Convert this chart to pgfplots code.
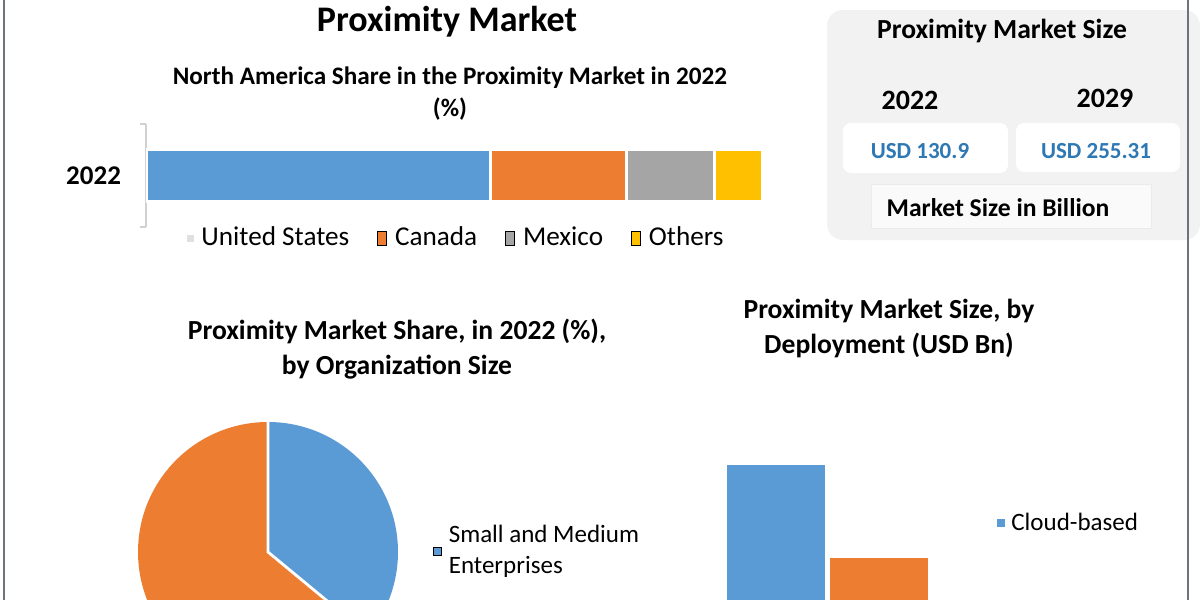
\documentclass[border=0pt]{standalone}
\usepackage{fontspec}
\setmainfont{Carlito}
\usepackage{pgfplots}
\pgfplotsset{compat=1.18}
\definecolor{cblue}{HTML}{5B9BD5}
\definecolor{corange}{HTML}{ED7D31}
\definecolor{cgray}{HTML}{A5A5A5}
\definecolor{cyellow}{HTML}{FFC000}
\definecolor{usdblue}{HTML}{2E78B4}
\definecolor{boxgray}{HTML}{F2F2F2}
\definecolor{framegray}{HTML}{6E7280}
\begin{document}
\begin{tikzpicture}[x=0.5pt,y=-0.5pt]
\useasboundingbox (0,0) rectangle (1200,600);
\clip (0,0) rectangle (1200,600);
\fill[white] (0,0) rectangle (1200,600);

% ---------- Right summary box ----------
\fill[boxgray, rounded corners=8pt] (827,10) rectangle (1200,240);
\node[font=\fontsize{13.8}{16}\selectfont\bfseries] at (1002,31) {Proximity Market Size};
\node[font=\fontsize{14}{16}\selectfont\bfseries] at (910,100) {2022};
\node[font=\fontsize{14}{16}\selectfont\bfseries] at (1105,98) {2029};
\fill[white, rounded corners=4pt] (843,123) rectangle (1008,173);
\fill[white, rounded corners=4pt] (1016,123) rectangle (1180,172);
\node[font=\fontsize{11.5}{14}\selectfont\bfseries, text=usdblue] at (920,151) {USD 130.9};
\node[font=\fontsize{11.5}{14}\selectfont\bfseries, text=usdblue] at (1096,151) {USD 255.31};
\filldraw[fill=black!2, draw=black!8] (871,184) rectangle (1151,228);
\node[font=\fontsize{12.8}{15}\selectfont\bfseries] at (998,208) {Market Size in Billion};

% ---------- Titles ----------
\node[font=\fontsize{18}{20}\selectfont\bfseries] at (447,22) {Proximity Market};
\node[align=center, font=\fontsize{12.6}{16}\selectfont\bfseries] at (450,94)
  {North America Share in the Proximity Market in 2022\\(\%)};
\node[align=center, font=\fontsize{13.8}{17.5}\selectfont\bfseries] at (397,349)
  {Proximity Market Share, in 2022 (\%),\\by Organization Size};
\node[align=center, font=\fontsize{13.8}{17.5}\selectfont\bfseries] at (889,328)
  {Proximity Market Size, by\\Deployment (USD Bn)};

% ---------- Stacked bar: North America share ----------
\begin{axis}[at={(73pt,-113.5pt)}, anchor=south west, scale only axis,
  width=308pt, height=51.5pt,
  xbar stacked, bar width=26pt,
  xmin=0, xmax=100, ymin=-0.5, ymax=0.5,
  axis x line=none, axis y line*=left,
  y axis line style={draw=black!18, line width=0.8pt},
  ytick={0}, yticklabels={2022}, major tick length=0pt,
  minor ytick={-0.5,0.5}, minor tick length=3pt, tick align=outside,
  minor tick style={draw=black!18, line width=0.8pt},
  yticklabel style={font=\fontsize{13.5}{16}\selectfont\bfseries, xshift=-9pt},
  legend columns=4,
  legend style={at={(0.505,-0.107)}, anchor=center, draw=none, fill=none,
    font=\fontsize{13.6}{15}\selectfont,
    /tikz/every odd column/.append style={column sep=2pt},
    /tikz/every even column/.append style={column sep=12pt}},
  legend image code/.code={\fill[#1] (0pt,-3.5pt) rectangle (4.5pt,3.5pt);},
]
\addplot[fill=cblue, draw=white, line width=1.5pt, forget plot] coordinates {(56,0)};
\addplot[fill=corange, draw=white, line width=1.5pt, forget plot] coordinates {(22,0)};
\addplot[fill=cgray, draw=white, line width=1.5pt, forget plot] coordinates {(14.3,0)};
\addplot[fill=cyellow, draw=white, line width=1.5pt, forget plot] coordinates {(7.7,0)};
\addlegendimage{legend image code/.code={\fill[black!12] (1pt,-1.5pt) rectangle (4pt,1.5pt);}}
\addlegendentry{United States}
\addlegendimage{fill=corange}
\addlegendentry{Canada}
\addlegendimage{fill=cgray}
\addlegendentry{Mexico}
\addlegendimage{fill=cyellow}
\addlegendentry{Others}
\end{axis}

% ---------- Pie: organization size ----------
\pgfmathsetmacro{\sme}{36}
\pgfmathsetmacro{\large}{64}
\pgfmathsetmacro{\ea}{90-3.6*\sme}
\begin{axis}[at={(134pt,-276pt)}, anchor=center, scale only axis,
  width=130pt, height=130pt, xmin=-1, xmax=1, ymin=-1, ymax=1, hide axis,
  legend style={at={(1.11,0.635)}, anchor=north west, draw=none, fill=none,
    font=\fontsize{12.5}{15.5}\selectfont, cells={align=left},
    /tikz/every odd column/.append style={column sep=1.5pt}},
  legend image code/.code={\fill[#1] (0pt,-2pt) rectangle (4pt,2pt);},
]
\fill[cblue] (axis cs:0,0) -- (axis cs:0,1) arc[start angle=90, end angle=\ea, radius=65pt] -- cycle;
\fill[corange] (axis cs:0,0) -- (axis cs:{cos(\ea)},{sin(\ea)}) arc[start angle=\ea, end angle=-270, radius=65pt] -- cycle;
\draw[white, line width=1.4pt] (axis cs:0,1) -- (axis cs:0,0) -- (axis cs:{cos(\ea)},{sin(\ea)});
\addlegendimage{fill=cblue}
\addlegendentry{Small and Medium\\Enterprises}
\end{axis}

% ---------- Bars: deployment ----------
\begin{axis}[at={(313.5pt,-360pt)}, anchor=south west, scale only axis,
  width=200pt, height=159.375pt,
  ybar, bar width=49pt,
  xmin=-1, xmax=1, ymin=0, ymax=100, hide axis,
  legend style={at={(0.91,0.618)}, anchor=west, draw=none, fill=none,
    font=\fontsize{12.5}{15}\selectfont,
    /tikz/every odd column/.append style={column sep=1pt}},
  legend image code/.code={\fill[#1] (0pt,-2pt) rectangle (4pt,2pt);},
]
\addplot[fill=cblue, draw=none, bar shift=-25.75pt] coordinates {(0,80)};
\addlegendentry{Cloud-based}
\addplot[fill=corange, draw=none, bar shift=25.75pt, forget plot] coordinates {(0,50.8)};
\end{axis}

% ---------- Frame lines ----------
\draw[framegray, line width=1.2pt] (4,0) -- (4,600);
\draw[framegray, line width=1.2pt] (1188,0) -- (1188,600);
\end{tikzpicture}
\end{document}
